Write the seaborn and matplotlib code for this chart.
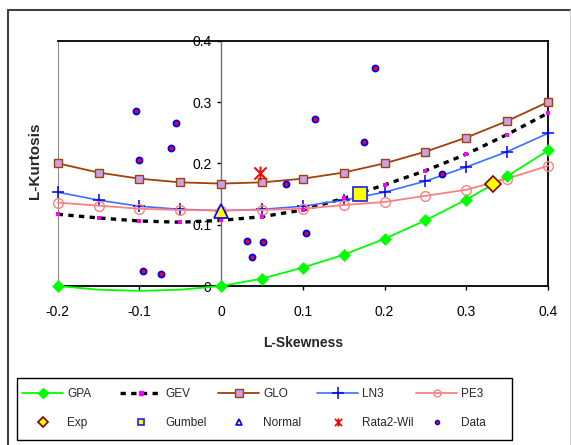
import numpy as np
import pandas as pd
import matplotlib
matplotlib.use("Agg")
import matplotlib.pyplot as plt
from matplotlib.lines import Line2D
from matplotlib.patches import Rectangle
from matplotlib.path import Path
import seaborn as sns

sns.set_style("white")
plt.rcParams['font.family'] = ['Liberation Sans', 'DejaVu Sans']

# ---- data ----
tau3 = [-0.2, -0.15, -0.1, -0.05, 0.0, 0.05, 0.1, 0.15, 0.2, 0.25, 0.3, 0.35, 0.4]
gpa = [0.0, -0.006, -0.008, -0.006, 0.0, 0.012, 0.030, 0.051, 0.077, 0.107, 0.141, 0.179, 0.221]
gev = [0.117, 0.111, 0.106, 0.104, 0.107, 0.113, 0.124, 0.143, 0.165, 0.188, 0.215, 0.247, 0.282]
glo = [0.200, 0.185, 0.175, 0.169, 0.167, 0.169, 0.175, 0.185, 0.200, 0.219, 0.242, 0.269, 0.300]
ln3 = [0.153, 0.140, 0.130, 0.125, 0.123, 0.125, 0.130, 0.140, 0.153, 0.171, 0.194, 0.219, 0.249]
pe3 = [0.136, 0.131, 0.126, 0.124, 0.123, 0.124, 0.126, 0.132, 0.137, 0.147, 0.157, 0.175, 0.196]

exp_pt = (0.333, 0.167)
gumbel_pt = (0.170, 0.150)
normal_pt = (0.0, 0.123)
rata_pt = (0.048, 0.184)

data_x = [-0.104, -0.055, -0.061, -0.100, 0.079, 0.188, 0.115, 0.175, 0.270,
          0.032, 0.051, 0.038, -0.096, -0.073, 0.104]
data_y = [0.285, 0.265, 0.225, 0.205, 0.167, 0.356, 0.273, 0.235, 0.182,
          0.074, 0.072, 0.047, 0.024, 0.020, 0.087]

xticks = [-0.2, -0.1, 0, 0.1, 0.2, 0.3, 0.4]
xticklabels = ["-0.2", "-0.1", "0", "0.1", "0.2", "0.3", "0.4"]
yticks = [0, 0.1, 0.2, 0.3, 0.4]
yticklabels = ["0", "0.1", "0.2", "0.3", "0.4"]

df = pd.DataFrame({"t3": tau3, "GPA": gpa, "GEV": gev, "GLO": glo, "LN3": ln3, "PE3": pe3})

W, H = 571, 445
fig = plt.figure(figsize=(W / 100, H / 100), dpi=100)
ax = fig.add_axes([57.7 / W, 1 - 286 / H, (548 - 57.7) / W, (286 - 40.7) / H])

# GPA line (extends below axis), markers only where visible
sns.lineplot(data=df, x="t3", y="GPA", ax=ax, color="#00FF00", lw=1.3, sort=False,
             clip_on=False, zorder=3)
vis = df[df["GPA"] >= 0]
sns.scatterplot(data=vis, x="t3", y="GPA", ax=ax, marker="D", s=36, color="#00FF00",
                edgecolor="#00FF00", linewidth=0.5, clip_on=False, zorder=4)

# GEV
sns.lineplot(data=df, x="t3", y="GEV", ax=ax, color="black", lw=2.4, sort=False,
             linestyle=(0, (1.6, 1.6)), clip_on=False, zorder=3)
sns.scatterplot(data=df, x="t3", y="GEV", ax=ax, marker="s", s=8, color="#FF00FF",
                linewidth=0, clip_on=False, zorder=4)

# GLO
sns.lineplot(data=df, x="t3", y="GLO", ax=ax, color="#A0400A", lw=1.3, sort=False,
             marker="s", markersize=6, markerfacecolor="#C8A0E6",
             markeredgecolor="#A0400A", markeredgewidth=1.0, clip_on=False, zorder=3)

# LN3
sns.lineplot(data=df, x="t3", y="LN3", ax=ax, color="#3A70FF", lw=1.2, sort=False,
             marker="+", markersize=9, markeredgecolor="#0000FF", markeredgewidth=1.1,
             clip_on=False, zorder=3)

# PE3
sns.lineplot(data=df, x="t3", y="PE3", ax=ax, color="#FF8080", lw=1.3, sort=False,
             marker="o", markersize=7, markerfacecolor="none",
             markeredgecolor="#FF8080", markeredgewidth=1.0, clip_on=False, zorder=3)

# Data points
sns.scatterplot(x=data_x, y=data_y, ax=ax, marker="o", s=18, color="#FF0000",
                edgecolor="#0000FF", linewidth=1.4, zorder=5)

# Special points
ax.plot([exp_pt[0]], [exp_pt[1]], marker="D", ms=8, mfc="#FFFF00", mec="#800000",
        mew=1.2, ls="none", zorder=6)
ax.plot([gumbel_pt[0]], [gumbel_pt[1]], marker="s", ms=10, mfc="#FFFF00", mec="#2020E0",
        mew=1.2, ls="none", zorder=6)
ax.plot([normal_pt[0]], [normal_pt[1]], marker="^", ms=10, mfc="#FFFF00", mec="#0000FF",
        mew=1.2, ls="none", zorder=6)
rata_marker = Path([(-1, -1), (1, 1), (-1, 1), (1, -1), (0, -1.15), (0, 1.15)],
                   [Path.MOVETO, Path.LINETO, Path.MOVETO, Path.LINETO, Path.MOVETO, Path.LINETO])
ax.plot([rata_pt[0]], [rata_pt[1]], marker=rata_marker, ms=10, mfc="none", mec="#FF0000",
        mew=1.4, ls="none", zorder=6)

# Axes formatting
ax.set_xlim(-0.2, 0.4)
ax.set_ylim(0, 0.4)
ax.spines['left'].set_position(('data', 0))
ax.spines['left'].set_color("#707070")
ax.spines['left'].set_linewidth(1.0)
for s in ['top', 'right', 'bottom']:
    ax.spines[s].set_color("black")
    ax.spines[s].set_linewidth(1.3)
ax.axvline(-0.2, color="#707070", lw=1.2, zorder=1)

ax.set_xticks(xticks)
ax.set_xticklabels(xticklabels)
ax.set_yticks(yticks)
ax.set_yticklabels(yticklabels)
ax.tick_params(axis='x', direction='out', length=3, width=1, pad=11, labelsize=10,
               bottom=True, colors='black')
ax.tick_params(axis='y', direction='out', length=3, width=1, pad=4, labelsize=10,
               left=True, colors='black')

ax.set_xlabel("L-Skewness", fontsize=10, fontweight="bold")
ax.set_ylabel("L-Kurtosis", fontsize=11, fontweight="bold")
ax.xaxis.set_label_coords(0.5, (286 - 343) / 245.3)
ax.xaxis.label.set_va("center")
ax.yaxis.set_label_coords((35 - 57.7) / 490.3, (286 - 161) / 245.3)
ax.yaxis.label.set_va("center")
ax.grid(False)

# Legend (one legend per column so columns keep an even pitch, plus a frame)
h = {
    "GPA": Line2D([], [], color="#00FF00", lw=1.3, marker="D", ms=5, mfc="#00FF00", mec="#00FF00"),
    "GEV": Line2D([], [], color="black", lw=2.4, ls=(0, (1.6, 1.6)), marker="s", ms=2.5,
                  mfc="#FF00FF", mec="#FF00FF"),
    "GLO": Line2D([], [], color="#A0400A", lw=1.3, marker="s", ms=6, mfc="#C8A0E6", mec="#A0400A"),
    "LN3": Line2D([], [], color="#3A70FF", lw=1.2, marker="+", ms=8, mec="#0000FF", mew=1.1),
    "PE3": Line2D([], [], color="#FF8080", lw=1.3, marker="o", ms=5, mfc="none", mec="#FF8080"),
    "Exp": Line2D([], [], ls="none", marker="D", ms=5, mfc="#FFFF00", mec="#800000", mew=1.2),
    "Gumbel": Line2D([], [], ls="none", marker="s", ms=5, mfc="#FFFF00", mec="#2020E0", mew=1.2),
    "Normal": Line2D([], [], ls="none", marker="^", ms=5, mfc="#FFFF00", mec="#0000FF", mew=1.2),
    "Rata2-Wil": Line2D([], [], ls="none", marker=rata_marker, ms=6, mfc="none", mec="#FF0000", mew=1.2),
    "Data": Line2D([], [], ls="none", marker="o", ms=3, mfc="#FF0000", mec="#0000FF", mew=1.0),
}
columns = [["GPA", "Exp"], ["GEV", "Gumbel"], ["GLO", "Normal"], ["LN3", "Rata2-Wil"], ["PE3", "Data"]]
col_x = [22, 120, 218, 317, 416]
for cx, names in zip(col_x, columns):
    lg = fig.legend([h[k] for k in names], names, ncol=1, loc="upper left",
                    bbox_to_anchor=(cx / W, 1 - 388 / H), borderaxespad=0, borderpad=0,
                    fontsize=8.5, frameon=False, handlelength=3.5, handletextpad=0.35,
                    labelspacing=1.45, numpoints=1)
fig.add_artist(Rectangle((17 / W, 1 - 440 / H), (512 - 17) / W, (440 - 378) / H,
                         transform=fig.transFigure, fill=False, edgecolor="black", lw=1.0))

# Outer chart frame
fig.add_artist(Line2D([8 / W, 8 / W], [0, 1 - 10 / H], color="#404040", lw=1.5))
fig.add_artist(Line2D([8 / W, 570.5 / W], [1 - 10 / H, 1 - 10 / H], color="#404040", lw=1.5))
fig.add_artist(Line2D([570.5 / W, 570.5 / W], [0, 1 - 10 / H], color="#C0C0C0", lw=1.2))

fig.savefig("out.png", dpi=100)
